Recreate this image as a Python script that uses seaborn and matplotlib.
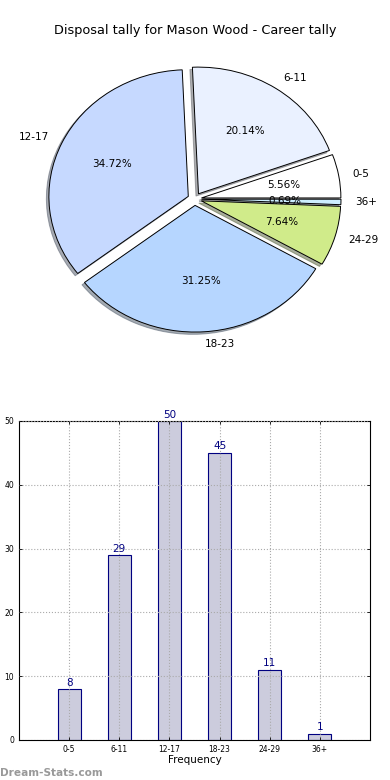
import matplotlib
matplotlib.use("Agg")
import matplotlib.pyplot as plt
import seaborn as sns
import pandas as pd

categories = ["0-5", "6-11", "12-17", "18-23", "24-29", "36+"]
counts = [8, 29, 50, 45, 11, 1]
pie_colors = ["#ffffff", "#eaf1ff", "#c6d9ff", "#b6d6ff", "#d0eb8a", "#cdeeff"]
title = "Disposal tally for Mason Wood - Career tally"
y_ticks = [0, 10, 20, 30, 40, 50]

plt.rcParams['font.family'] = ['DejaVu Sans']
fig = plt.figure(figsize=(3.9, 7.8), dpi=100)

# Pie
ax1 = fig.add_axes([0.0522, 0.5418, 0.8936, 0.406])
wedges, texts, autotexts = ax1.pie(
    counts, labels=categories, colors=pie_colors, explode=[0.05] * len(counts),
    autopct='%.2f%%', shadow={'ox': -0.013, 'oy': -0.013, 'shade': 0.6},
    startangle=0,
    wedgeprops=dict(edgecolor='black', linewidth=0.7),
    textprops=dict(fontsize=7.5))
ax1.set_aspect('auto')
ax1.set_xlim(-1.25, 1.25)
ax1.set_ylim(-1.25, 1.25)
fig.text(0.5, 0.961, title, ha='center', va='center', fontsize=9.3)

# Bars
df = pd.DataFrame({"cat": categories, "n": counts})
ax2 = fig.add_axes([0.0487, 0.0513, 0.9, 0.409])
sns.barplot(data=df, x="cat", y="n", color="#ccccdd", edgecolor="navy",
            linewidth=0.8, width=0.46, saturation=1, ax=ax2)
for c in ax2.containers:
    ax2.bar_label(c, labels=[str(v) for v in counts], color="navy", fontsize=7.5, padding=1)
ax2.set_xlim(-1, 6)
ax2.set_ylim(0, 50)
ax2.set_yticks(y_ticks)
ax2.set_axisbelow(False)
ax2.grid(True, linestyle=':', color='#aaaaaa', linewidth=0.8)
ax2.tick_params(direction='in', labelsize=5.5, length=2, top=True, right=True, width=0.6)
ax2.set_xlabel("Frequency", fontsize=7.5, labelpad=1)
ax2.set_ylabel("")
for s in ax2.spines.values():
    s.set_linewidth(0.8)

fig.text(0.0, 0.003, "Dream-Stats.com", color="#999999", fontsize=7.6, fontweight='bold',
         ha='left', va='bottom')

fig.savefig("out.png", dpi=100)
